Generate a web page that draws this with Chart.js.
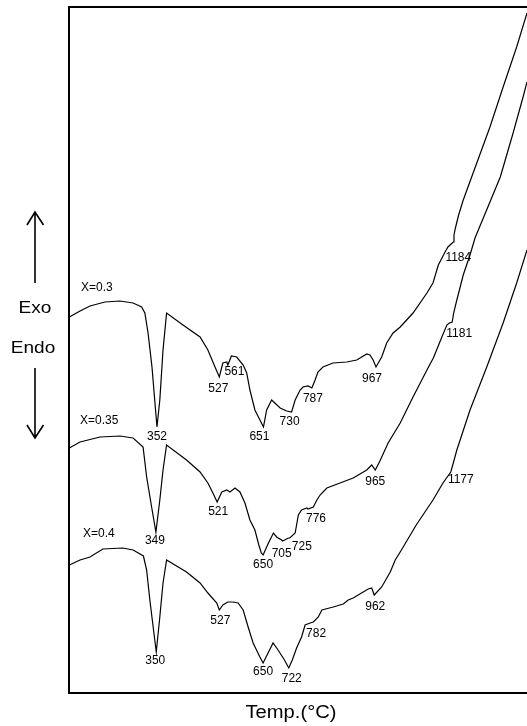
<!DOCTYPE html>
<html>
<head>
<meta charset="utf-8">
<script src="https://cdn.jsdelivr.net/npm/chart.js@4.4.1/dist/chart.umd.min.js"></script>
<style>
  html, body { margin: 0; padding: 0; background: #fff; }
  #wrap { width: 527px; height: 726px; position: relative; }
</style>
</head>
<body>
<div id="wrap"><canvas id="c" width="527" height="726"></canvas></div>
<script>
// DTA traces of the three compositions: temperature (°C) vs. ΔT signal (a.u.)
const tempsX03 = [106,136,164,206,248,285,309,318,327,338,352,360,369,379,425,473,495,515,527,537,548,551,561,576,594,604,613,627,651,660,674,683,698,716,730,740,754,762,776,787,796,804,818,846,885,913,941,950,959,967,983,997,1015,1035,1071,1110,1127,1142,1161,1169,1178,1184,1186,1190,1199,1212,1250,1287,1324,1362,1391];
const dtaX03   = [37.6,38.2,38.7,39.1,39.2,39.0,38.6,38.0,36.0,32.6,26.6,29.3,34.3,38.0,36.8,35.6,34.3,32.6,31.6,33.0,33.1,32.8,33.7,33.6,32.8,32.0,30.3,28.3,26.6,28.3,29.3,29.0,28.5,28.2,28.1,29.3,30.3,30.6,30.7,30.5,31.3,32.1,32.6,33.0,33.1,33.3,33.9,33.8,33.3,32.6,33.6,35.0,36.0,36.6,38.0,40.0,41.0,42.8,44.1,44.6,44.9,45.1,45.8,46.5,47.8,49.3,53.0,56.6,60.6,64.6,68.0];

const tempsX035 = [106,136,192,248,285,313,323,337,349,360,369,379,435,473,495,509,521,534,548,557,571,585,599,613,627,638,645,650,665,679,688,702,705,721,725,740,744,749,758,773,776,791,801,810,829,866,903,941,955,965,978,1001,1035,1071,1110,1128,1152,1166,1173,1181,1185,1194,1212,1231,1245,1273,1316,1352,1380,1391];
const dtaX035   = [24.5,25.1,25.6,25.7,25.5,24.6,21.6,18.6,16.1,19.3,22.3,24.8,23.3,22.1,21.0,20.0,19.1,20.1,20.3,20.1,20.5,20.1,19.0,17.3,16.3,14.8,14.0,13.8,15.0,16.0,15.6,15.3,15.2,15.5,15.5,16.0,16.8,17.8,18.3,18.5,18.4,18.6,19.3,19.8,20.5,21.0,21.5,22.3,22.8,22.3,23.2,25.0,27.0,29.6,32.3,33.5,35.6,36.8,37.0,37.1,38.0,39.3,41.8,43.8,45.5,47.9,51.6,56.0,59.6,61.1];

const tempsX04 = [106,136,164,200,256,285,314,323,332,350,360,369,379,435,473,495,520,527,537,551,565,580,594,608,622,641,650,664,678,692,710,722,732,744,758,768,782,791,805,815,847,875,889,903,945,955,962,983,1007,1021,1035,1080,1127,1155,1177,1184,1194,1231,1278,1324,1362,1391];
const dtaX04   = [12.8,13.3,13.6,14.4,14.5,14.3,13.7,12.3,9.3,4.1,7.6,11.0,13.3,12.1,11.0,10.0,9.0,8.3,8.8,9.1,9.1,9.0,8.3,6.6,5.0,3.6,3.0,4.0,5.0,4.3,3.3,2.5,3.3,4.5,5.6,6.8,7.0,7.1,7.6,8.3,8.6,8.9,9.3,9.5,10.4,10.5,9.8,10.6,12.1,13.3,14.1,16.8,19.3,21.0,22.1,23.0,24.3,28.3,32.6,37.0,41.0,44.3];

// peak temperatures marked on each trace
const peaksX03  = [352,527,561,651,730,787,967,1184];
const peaksX035 = [349,521,650,705,725,776,965,1181];
const peaksX04  = [350,527,650,722,782,962,1177];

const seriesNames = ['X=0.3','X=0.35','X=0.4'];

// label placement relative to the marked point (px)
const peakOffsets = [
  [[0,9.5],[-1,12],[3,16],[-4,10],[-2,10],[1,11],[-4,12],[5,16]],
  [[-1,9],[1,10],[0,10],[-1,13],[12,9],[8,10],[0,12],[7,12]],
  [[-1,9],[1,11],[0,9],[3,11],[6,11],[1,12],[10,8]]
];
const nameOffsets = [[12,-29],[11,-27],[14,-31]];

function pts(t, v) { return t.map((x, i) => ({ x: x, y: v[i] })); }

const allTemps = [tempsX03, tempsX035, tempsX04];
const allPeaks = [peaksX03, peaksX035, peaksX04];

const FONT = '"Liberation Sans", Arial, Helvetica, sans-serif';

const decor = {
  id: 'decor',
  afterDraw(chart) {
    const ctx = chart.ctx;
    const ca = chart.chartArea;
    ctx.save();

    // frame (left, top, bottom)
    ctx.strokeStyle = '#000';
    ctx.lineWidth = 2;
    ctx.beginPath();
    ctx.moveTo(chart.width, ca.top);
    ctx.lineTo(ca.left, ca.top);
    ctx.lineTo(ca.left, ca.bottom);
    ctx.lineTo(chart.width, ca.bottom);
    ctx.stroke();

    ctx.fillStyle = '#000';
    ctx.textAlign = 'center';
    ctx.textBaseline = 'middle';
    ctx.font = '12px ' + FONT;

    // peak temperatures
    allPeaks.forEach((peaks, s) => {
      const meta = chart.getDatasetMeta(s);
      peaks.forEach((T, k) => {
        const idx = allTemps[s].indexOf(T);
        if (idx < 0) return;
        const p = meta.data[idx];
        const o = peakOffsets[s][k];
        ctx.fillText(String(T), p.x + o[0], p.y + o[1]);
      });
    });

    // series names above the start of each trace
    ctx.textAlign = 'left';
    seriesNames.forEach((name, s) => {
      const p = chart.getDatasetMeta(s).data[0];
      const o = nameOffsets[s];
      ctx.fillText(name, ca.left + o[0], p.y + o[1]);
    });

    // Exo / Endo with arrows
    function stretched(text, x, y, size) {
      ctx.save();
      ctx.font = size + 'px ' + FONT;
      ctx.textAlign = 'center';
      ctx.textBaseline = 'middle';
      ctx.translate(x, y);
      ctx.scale(1.12, 1);
      ctx.fillText(text, 0, 0);
      ctx.restore();
    }
    stretched('Exo', 35, 308, 17);
    stretched('Endo', 33, 348, 17);

    ctx.lineWidth = 1.6;
    ctx.beginPath();
    ctx.moveTo(35, 283); ctx.lineTo(35, 212);
    ctx.moveTo(27, 225); ctx.lineTo(35, 212); ctx.lineTo(43.5, 225);
    ctx.moveTo(35, 368); ctx.lineTo(35, 438);
    ctx.moveTo(27, 425); ctx.lineTo(35, 438); ctx.lineTo(43.5, 425);
    ctx.stroke();

    // axis title
    stretched('Temp.(\u00B0C)', 291, 713, 18);

    ctx.restore();
  }
};

const styleLine = { borderColor: '#000', borderWidth: 1.2, pointRadius: 0, tension: 0, fill: false };

new Chart(document.getElementById('c'), {
  type: 'line',
  data: {
    datasets: [
      Object.assign({ label: seriesNames[0], data: pts(tempsX03, dtaX03) }, styleLine),
      Object.assign({ label: seriesNames[1], data: pts(tempsX035, dtaX035) }, styleLine),
      Object.assign({ label: seriesNames[2], data: pts(tempsX04, dtaX04) }, styleLine)
    ]
  },
  options: {
    responsive: false,
    animation: false,
    devicePixelRatio: 1,
    layout: { padding: { left: 69, top: 7, right: 0, bottom: 33 } },
    plugins: { legend: { display: false }, tooltip: { enabled: false } },
    scales: {
      x: { type: 'linear', min: 105, max: 1391, display: false },
      y: { type: 'linear', min: 0, max: 68.6, display: false }
    }
  },
  plugins: [decor]
});
</script>
</body>
</html>
